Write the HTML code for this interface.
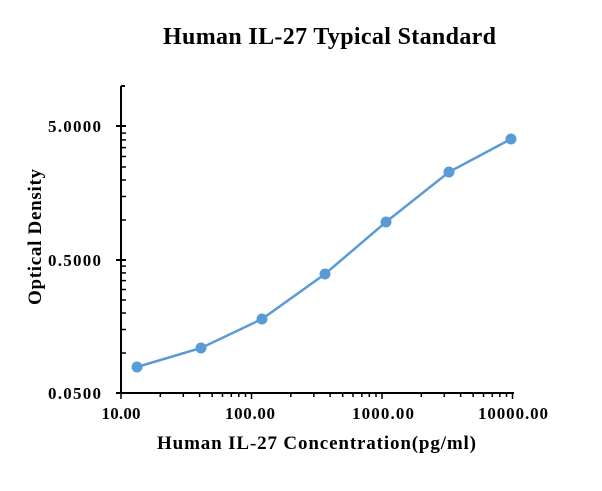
<!DOCTYPE html>
<html><head><style>body{margin:0;background:#fff}svg{display:block}text{font-family:"Liberation Serif",serif;font-weight:bold;fill:#000}</style></head>
<body>
<svg width="602" height="491" xmlns="http://www.w3.org/2000/svg">
<text x="329.5" y="44" font-size="24" text-anchor="middle" textLength="333" lengthAdjust="spacing">Human IL-27 Typical Standard</text>
<g stroke="#000" stroke-width="2">
<line x1="121" y1="86" x2="121" y2="394"/>
<line x1="120" y1="393" x2="514" y2="393"/>
<line x1="116" y1="126" x2="126" y2="126"/>
<line x1="116" y1="260" x2="126" y2="260"/>
<line x1="116" y1="393" x2="126" y2="393"/>
<line x1="121" y1="86" x2="125" y2="86"/>
</g>
<g stroke="#000" stroke-width="1.5">
<line x1="121" y1="353" x2="126" y2="353"/><line x1="121" y1="329.5" x2="126" y2="329.5"/><line x1="121" y1="313" x2="126" y2="313"/><line x1="121" y1="300" x2="126" y2="300"/><line x1="121" y1="289.5" x2="126" y2="289.5"/><line x1="121" y1="280.6" x2="126" y2="280.6"/><line x1="121" y1="272.9" x2="126" y2="272.9"/><line x1="121" y1="266.1" x2="126" y2="266.1"/>
<line x1="121" y1="220" x2="126" y2="220"/><line x1="121" y1="196.5" x2="126" y2="196.5"/><line x1="121" y1="180" x2="126" y2="180"/><line x1="121" y1="167" x2="126" y2="167"/><line x1="121" y1="156.5" x2="126" y2="156.5"/><line x1="121" y1="147.6" x2="126" y2="147.6"/><line x1="121" y1="139.9" x2="126" y2="139.9"/><line x1="121" y1="133.1" x2="126" y2="133.1"/>
<line x1="121" y1="393" x2="121" y2="399"/><line x1="251.5" y1="393" x2="251.5" y2="399"/><line x1="382" y1="393" x2="382" y2="399"/><line x1="512.5" y1="393" x2="512.5" y2="399"/>
<line x1="160.3" y1="393" x2="160.3" y2="397"/><line x1="183.3" y1="393" x2="183.3" y2="397"/><line x1="199.6" y1="393" x2="199.6" y2="397"/><line x1="212.2" y1="393" x2="212.2" y2="397"/><line x1="222.5" y1="393" x2="222.5" y2="397"/><line x1="231.3" y1="393" x2="231.3" y2="397"/><line x1="238.8" y1="393" x2="238.8" y2="397"/><line x1="245.5" y1="393" x2="245.5" y2="397"/>
<line x1="290.8" y1="393" x2="290.8" y2="397"/><line x1="313.8" y1="393" x2="313.8" y2="397"/><line x1="330.1" y1="393" x2="330.1" y2="397"/><line x1="342.7" y1="393" x2="342.7" y2="397"/><line x1="353" y1="393" x2="353" y2="397"/><line x1="361.8" y1="393" x2="361.8" y2="397"/><line x1="369.3" y1="393" x2="369.3" y2="397"/><line x1="376" y1="393" x2="376" y2="397"/>
<line x1="421.3" y1="393" x2="421.3" y2="397"/><line x1="444.3" y1="393" x2="444.3" y2="397"/><line x1="460.6" y1="393" x2="460.6" y2="397"/><line x1="473.2" y1="393" x2="473.2" y2="397"/><line x1="483.5" y1="393" x2="483.5" y2="397"/><line x1="492.3" y1="393" x2="492.3" y2="397"/><line x1="499.8" y1="393" x2="499.8" y2="397"/><line x1="506.5" y1="393" x2="506.5" y2="397"/>
</g>
<g font-size="17">
<text x="48" y="132" textLength="53" lengthAdjust="spacing">5.0000</text>
<text x="48" y="266" textLength="53" lengthAdjust="spacing">0.5000</text>
<text x="48" y="399" textLength="53" lengthAdjust="spacing">0.0500</text>
</g>
<g font-size="17" text-anchor="middle">
<text x="121" y="419" textLength="39" lengthAdjust="spacing">10.00</text>
<text x="250" y="419" textLength="50" lengthAdjust="spacing">100.00</text>
<text x="383" y="419" textLength="62" lengthAdjust="spacing">1000.00</text>
<text x="513" y="419" textLength="70" lengthAdjust="spacing">10000.00</text>
</g>
<text x="316.5" y="449" font-size="19" text-anchor="middle" textLength="319" lengthAdjust="spacing">Human IL-27 Concentration(pg/ml)</text>
<text transform="translate(41,237) rotate(-90)" font-size="19" text-anchor="middle" textLength="136" lengthAdjust="spacing">Optical Density</text>
<polyline fill="none" stroke="#5b9bd5" stroke-width="2.5" points="137,367 201,348 262,319 325,274 386,222 449,172 511,139"/>
<g fill="#5b9bd5">
<circle cx="137" cy="367" r="5.5"/><circle cx="201" cy="348" r="5.5"/><circle cx="262" cy="319" r="5.5"/><circle cx="325" cy="274" r="5.5"/><circle cx="386" cy="222" r="5.5"/><circle cx="449" cy="172" r="5.5"/><circle cx="511" cy="139" r="5.5"/>
</g>
</svg>
</body></html>
